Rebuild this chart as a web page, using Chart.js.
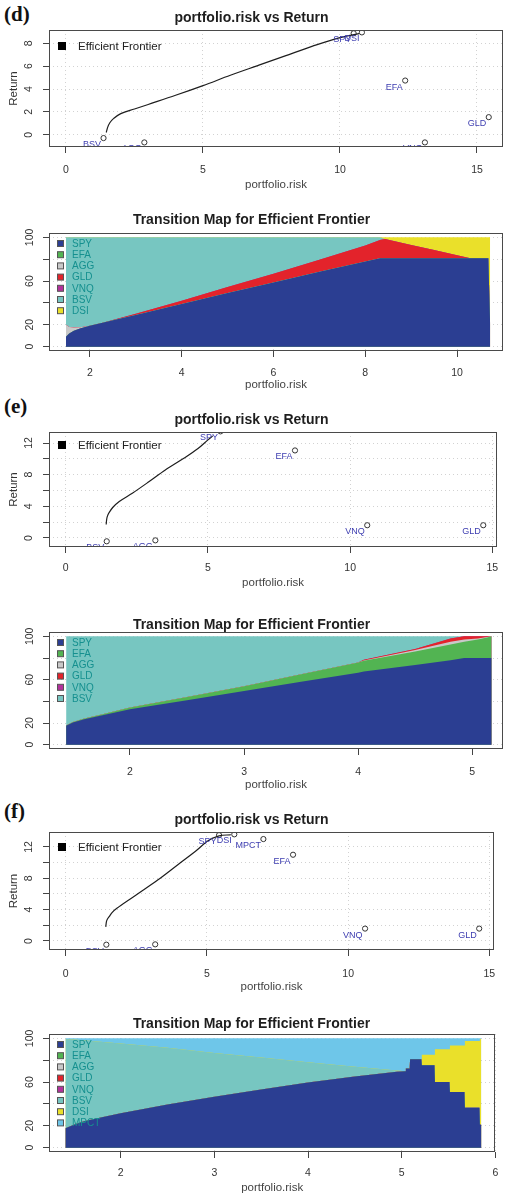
<!DOCTYPE html>
<html>
<head>
<meta charset="utf-8">
<script src="https://cdn.jsdelivr.net/npm/chart.js@4.4.1/dist/chart.umd.min.js"></script>
<style>
  body { margin: 0; background: #fff; width: 508px; height: 1197px; position: relative; overflow: hidden; }
  canvas { position: absolute; left: 0; }
  .tag { position: absolute; left: 4px; font: bold 21px/21px 'Liberation Serif', 'Times New Roman', serif; color: #111; }
</style>
</head>
<body>
<div class="tag" style="top:4px">(d)</div>
<div class="tag" style="top:396px">(e)</div>
<div class="tag" style="top:801px">(f)</div>
<script>
// ── DATA ─────────────────────────────────────────────────────────
// panel (d)
const assetsD = ['SPY', 'EFA', 'AGG', 'GLD', 'VNQ', 'BSV', 'DSI'];
const assetRiskD = [10.5, 12.38, 2.86, 15.43, 13.1, 1.37, 10.8];
const assetReturnD = [8.87, 4.74, -0.67, 1.54, -0.67, -0.29, 8.95];
const frontierRiskD = [1.47, 1.52, 1.6, 1.75, 2.0, 2.5, 3.0, 4.0, 5.0, 6.0, 7.0, 8.0, 9.0, 10.0, 10.7];
const frontierReturnD = [0.2, 0.65, 1.05, 1.45, 1.85, 2.25, 2.65, 3.45, 4.3, 5.2, 6.05, 6.9, 7.75, 8.5, 8.85];
const mapRiskD = [1.48, 1.55, 1.65, 1.8, 2.0, 2.3, 2.6, 3.0, 3.5, 4.0, 5.0, 6.0, 7.0, 8.0, 8.32, 8.43, 9.0, 9.5, 10.0, 10.29, 10.68, 10.72];
const mapD_SPY = [9, 12, 14.5, 16.8, 19, 22, 25, 29, 34, 39, 49, 58.8, 68.5, 78, 81, 81, 81, 81, 81, 81, 81, 20];
const mapD_EFA = [0, 0, 0, 0, 0, 0, 0, 0, 0, 0, 0, 0, 0, 0, 0, 0, 0, 0, 0, 0, 0, 0];
const mapD_AGG = [11, 6, 3, 1, 0, 0, 0, 0, 0, 0, 0, 0, 0, 0, 0, 0, 0, 0, 0, 0, 0, 0];
const mapD_GLD = [0, 0, 0, 0, 0, 0, 0.5, 1, 2, 3, 5.5, 8, 11, 14.5, 16.5, 17.5, 12.1, 7.4, 2.7, 0, 0, 0];
const mapD_VNQ = [0, 0, 0, 0, 0, 0, 0, 0, 0, 0, 0, 0, 0, 0, 0, 0, 0, 0, 0, 0, 0, 0];
const mapD_BSV = [80, 82, 82.5, 82.2, 81, 78, 74.5, 70, 64, 58, 45.5, 33.2, 20.5, 7.5, 2.5, 0, 0, 0, 0, 0, 0, 0];
const mapD_DSI = [0, 0, 0, 0, 0, 0, 0, 0, 0, 0, 0, 0, 0, 0, 0, 1.5, 6.9, 11.6, 16.3, 19, 19, 80];

// panel (e)
const assetsE = ['SPY', 'EFA', 'AGG', 'GLD', 'VNQ', 'BSV'];
const assetRiskE = [5.44, 8.06, 3.15, 14.68, 10.6, 1.44];
const assetReturnE = [13.47, 11.06, -0.3, 1.61, 1.61, -0.42];
const frontierRiskE = [1.42, 1.44, 1.48, 1.54, 1.65, 1.88, 2.34, 2.92, 3.5, 4.08, 4.65, 5.0, 5.17];
const frontierReturnE = [1.7, 2.4, 2.9, 3.3, 3.85, 4.6, 5.65, 7.1, 8.6, 9.9, 11.3, 12.4, 12.9];
const mapRiskE = [1.44, 1.5, 1.6, 1.75, 2.0, 2.5, 3.0, 3.5, 4.0, 4.05, 4.5, 4.81, 4.93, 5.05, 5.13, 5.17];
const mapE_SPY = [17.4, 20.5, 23.5, 27, 32.7, 41, 49.5, 58, 66.4, 67.5, 73.5, 78, 80, 80, 80, 80];
const mapE_EFA = [0.3, 0.4, 0.6, 0.9, 1.5, 3, 4.5, 7, 9.5, 10, 12.5, 14.5, 15, 17, 19, 20];
const mapE_AGG = [0, 0, 0, 0, 0, 0, 0, 0, 0, 0.3, 1.5, 2.5, 2, 1, 0.5, 0];
const mapE_GLD = [0, 0, 0, 0, 0, 0, 0, 0, 0, 0.5, 0.8, 3, 3, 2, 0.5, 0];
const mapE_VNQ = [0, 0, 0, 0, 0, 0, 0, 0, 0, 0, 0, 0, 0, 0, 0, 0];
const mapE_BSV = [82.3, 79.1, 75.9, 72.1, 65.8, 56, 46, 35, 24.1, 21.7, 11.7, 2, 0, 0, 0, 0];

// panel (f)
const assetsF = ['SPY', 'EFA', 'AGG', 'GLD', 'VNQ', 'BSV', 'DSI', 'MPCT'];
const assetRiskF = [5.43, 8.05, 3.17, 14.64, 10.6, 1.44, 5.97, 7.0];
const assetReturnF = [13.5, 11.0, -0.43, 1.58, 1.58, -0.47, 13.6, 13.0];
const frontierRiskF = [1.42, 1.44, 1.48, 1.54, 1.65, 1.88, 2.57, 3.27, 3.96, 4.65, 5.0, 5.43, 5.85];
const frontierReturnF = [1.8, 2.4, 2.8, 3.1, 3.65, 4.35, 6.05, 7.8, 9.7, 11.6, 12.7, 13.4, 13.55];
const mapRiskF = [1.41, 1.5, 1.6, 1.75, 2.0, 2.5, 3.0, 3.5, 4.0, 4.5, 4.95, 5.04, 5.045, 5.085, 5.09, 5.21, 5.215, 5.35, 5.355, 5.51, 5.515, 5.67, 5.675, 5.83, 5.835, 5.85];
const mapF_SPY = [17.7, 21, 24, 27, 31.4, 39.5, 46.6, 53.2, 59.5, 65, 69.5, 70, 72.5, 72.5, 81, 81, 75.5, 75.5, 60, 60, 51, 51, 36.5, 36.5, 21, 21];
const mapF_EFA = [0, 0, 0, 0, 0, 0, 0, 0, 0, 0, 0, 0, 0, 0, 0, 0, 0, 0, 0, 0, 0, 0, 0, 0, 0, 0];
const mapF_AGG = [0, 0, 0, 0, 0, 0, 0, 0, 0, 0, 0, 0, 0, 0, 0, 0, 0, 0, 0, 0, 0, 0, 0, 0, 0, 0];
const mapF_GLD = [0, 0, 0, 0, 0, 0, 0, 0, 0, 0, 0, 0, 0, 0, 0, 0, 0, 0, 0, 0, 0, 0, 0, 0, 0, 0];
const mapF_VNQ = [0, 0, 0, 0, 0, 0, 0, 0, 0, 0, 0, 0, 0, 0, 0, 0, 0, 0, 0, 0, 0, 0, 0, 0, 0, 0];
const mapF_BSV = [81.8, 78, 74.3, 70.2, 64, 52, 39.9, 29.3, 18.7, 9, 1, 0, 0, 0, 0, 0, 0, 0, 0, 0, 0, 0, 0, 0, 0, 0];
const mapF_DSI = [0, 0, 0, 0, 0, 0, 0, 0, 0, 0, 0, 0, 0, 0, 0, 0, 9.5, 9.5, 30, 30, 42.5, 42.5, 61, 61, 78.5, 78.5];
const mapF_MPCT = [0.5, 1, 1.7, 2.8, 4.6, 8.5, 13.5, 17.5, 21.8, 26, 29.5, 30, 27.5, 27.5, 19, 19, 15, 15, 10, 10, 6.5, 6.5, 2.5, 2.5, 0.5, 0.5];

// tick labels that R kept on the y axes
const yLabelsD = [0, 2, 4, 6, 8];
const yLabelsEF = [0, 4, 8, 12];
const yLabelsMap = [0, 20, 60, 100];

// ── STYLE ────────────────────────────────────────────────────────
const FONT = "'Liberation Sans', Arial, sans-serif";
const assetColors = {
    SPY: '#2b3e92', EFA: '#52b452', AGG: '#c9c9c9', GLD: '#e3232b',
    VNQ: '#b3319c', BSV: '#77c6c1', DSI: '#eae02a', MPCT: '#6ec6e9'
};
Chart.defaults.font.family = FONT;

// ── PLUGINS ──────────────────────────────────────────────────────
const rBox = {
    id: 'rBox',
    afterDraw(chart) {
        const a = chart.chartArea, ctx = chart.ctx;
        ctx.save();
        ctx.strokeStyle = '#4a4a4a';
        ctx.lineWidth = 1;
        ctx.strokeRect(Math.round(a.left) + 0.5, Math.round(a.top) + 0.5,
            Math.round(a.right - a.left) - 1, Math.round(a.bottom - a.top) - 1);
        ctx.restore();
    }
};

// R draws y labels parallel to the axis
const yTickLabels = {
    id: 'yTickLabels',
    afterDraw(chart, args, opts) {
        const y = chart.scales.y, ctx = chart.ctx;
        ctx.save();
        ctx.fillStyle = '#333';
        ctx.font = '10.5px ' + FONT;
        ctx.textAlign = 'center';
        ctx.textBaseline = 'middle';
        opts.values.forEach(v => {
            ctx.save();
            ctx.translate(opts.x, y.getPixelForValue(v));
            ctx.rotate(-Math.PI / 2);
            ctx.fillText(String(v), 0, 0);
            ctx.restore();
        });
        ctx.restore();
    }
};

const assetLabels = {
    id: 'assetLabels',
    afterDatasetsDraw(chart) {
        const a = chart.chartArea, ctx = chart.ctx;
        ctx.save();
        ctx.beginPath();
        ctx.rect(a.left, a.top, a.right - a.left, a.bottom - a.top);
        ctx.clip();
        ctx.fillStyle = '#3d3db0';
        ctx.font = '9px ' + FONT;
        ctx.textAlign = 'right';
        ctx.textBaseline = 'middle';
        chart.data.datasets.forEach((ds, di) => {
            if (!ds.names) return;
            chart.getDatasetMeta(di).data.forEach((pt, i) => {
                ctx.fillText(ds.names[i], pt.x - 2.5, pt.y + 6.5);
            });
        });
        ctx.restore();
    }
};

const frontierLegend = {
    id: 'frontierLegend',
    afterDraw(chart, args, opts) {
        const a = chart.chartArea, ctx = chart.ctx;
        const cy = a.top + opts.dy;
        ctx.save();
        ctx.fillStyle = '#000';
        ctx.fillRect(a.left + 9, cy - 4, 8, 8);
        ctx.fillStyle = '#222';
        ctx.font = '11.5px ' + FONT;
        ctx.textAlign = 'left';
        ctx.textBaseline = 'middle';
        ctx.fillText(chart.data.datasets[0].label, a.left + 29, cy + 0.5);
        ctx.restore();
    }
};

const mapLegend = {
    id: 'mapLegend',
    afterDraw(chart) {
        const a = chart.chartArea, ctx = chart.ctx;
        ctx.save();
        ctx.font = '10px ' + FONT;
        ctx.textAlign = 'left';
        ctx.textBaseline = 'middle';
        chart.data.datasets.forEach((ds, i) => {
            const cy = a.top + 10.5 + i * 11.2;
            ctx.fillStyle = ds.backgroundColor;
            ctx.fillRect(a.left + 8.5, cy - 3, 6, 6);
            ctx.strokeStyle = '#555';
            ctx.lineWidth = 1;
            ctx.strokeRect(a.left + 8.5, cy - 3, 6, 6);
            ctx.fillStyle = '#15908f';
            ctx.fillText(ds.label, a.left + 23, cy + 0.5);
        });
        ctx.restore();
    }
};

// ── LAYOUT HELPERS ───────────────────────────────────────────────
// g: page y of title centre, plot box top/bottom, x tick labels and x title
function frame(g, titleText, x, y, yTitle) {
    const top = g.title - 7, bottom = g.xTitle + 6;
    const canvas = document.createElement('canvas');
    canvas.width = 508;
    canvas.height = bottom - top;
    canvas.style.top = top + 'px';
    document.body.appendChild(canvas);

    const options = {
        responsive: false,
        animation: false,
        events: [],
        layout: { padding: { left: 0, right: 5, top: 0, bottom: 0 } },
        plugins: {
            legend: { display: false },
            tooltip: { enabled: false },
            title: {
                display: true, text: titleText, color: '#1e1e1e',
                font: { size: 14, weight: 'bold', lineHeight: 1 },
                padding: { top: 0, bottom: g.boxTop - g.title - 7 }
            }
        },
        scales: {
            x: {
                type: 'linear', min: x.min, max: x.max,
                afterFit: s => { s.height = bottom - g.boxBottom; },
                ticks: {
                    stepSize: x.step, includeBounds: false, autoSkip: false, maxRotation: 0,
                    padding: g.xLab - g.boxBottom - 6 - 5.25,
                    font: { size: 10.5, lineHeight: 1 }, color: '#333'
                },
                grid: { color: '#d2d2d2', tickColor: '#444', tickLength: 6 },
                border: { display: false, dash: [1, 3] },
                title: {
                    display: true, text: 'portfolio.risk', color: '#444',
                    font: { size: 11.5, lineHeight: 1 }, padding: { top: 0, bottom: 0.25 }
                }
            },
            y: {
                type: 'linear', min: y.min, max: y.max, stacked: !!y.stacked,
                afterFit: s => { s.width = 49; },
                ticks: { stepSize: y.step, includeBounds: false, display: false },
                grid: { color: '#d2d2d2', tickColor: '#444', tickLength: 6 },
                border: { display: false, dash: [1, 3] },
                title: {
                    display: !!yTitle, text: yTitle || '', color: '#333',
                    font: { size: 11.5, lineHeight: 1 }, padding: { top: 8.25, bottom: 0 }
                }
            }
        }
    };
    return { canvas, options };
}

function scatterChart(g, names, risk, ret, fRisk, fRet, x, y, yLabels, legendDy) {
    const f = frame(g, 'portfolio.risk vs Return', x, y, 'Return');
    f.options.plugins.yTickLabels = { values: yLabels, x: 29 };
    f.options.plugins.frontierLegend = { dy: legendDy };
    return new Chart(f.canvas, {
        type: 'scatter',
        data: {
            datasets: [{
                label: 'Efficient Frontier',
                data: fRisk.map((v, i) => ({ x: v, y: fRet[i] })),
                showLine: true, borderColor: '#1e1e1e', borderWidth: 1.2,
                pointRadius: 0, cubicInterpolationMode: 'monotone'
            }, {
                label: 'assets', names,
                data: risk.map((v, i) => ({ x: v, y: ret[i] })),
                pointRadius: 2.6, pointBorderWidth: 1,
                pointBorderColor: '#333', pointBackgroundColor: 'rgba(0,0,0,0)'
            }]
        },
        options: f.options,
        plugins: [rBox, yTickLabels, assetLabels, frontierLegend]
    });
}

function mapChart(g, risk, series, x) {
    const f = frame(g, 'Transition Map for Efficient Frontier', x,
        { min: -4, max: 104, step: 20, stacked: true }, null);
    f.options.plugins.yTickLabels = { values: yLabelsMap, x: 30 };
    return new Chart(f.canvas, {
        type: 'line',
        data: {
            datasets: series.map(([name, w]) => ({
                label: name,
                data: risk.map((v, i) => ({ x: v, y: w[i] })),
                backgroundColor: assetColors[name],
                borderColor: 'rgba(0,0,0,0)', borderWidth: 0,
                pointRadius: 0, fill: 'origin', tension: 0
            }))
        },
        options: f.options,
        plugins: [rBox, yTickLabels, mapLegend]
    });
}

// ── CHARTS ───────────────────────────────────────────────────────
scatterChart({ title: 18, boxTop: 30, boxBottom: 147, xLab: 170, xTitle: 185 },
    assetsD, assetRiskD, assetReturnD, frontierRiskD, frontierReturnD,
    { min: -0.62, max: 15.95, step: 5 }, { min: -1.07, max: 9.16, step: 2 }, yLabelsD, 16);

mapChart({ title: 220, boxTop: 233, boxBottom: 351, xLab: 373, xTitle: 385 }, mapRiskD, [
    ['SPY', mapD_SPY], ['EFA', mapD_EFA], ['AGG', mapD_AGG], ['GLD', mapD_GLD],
    ['VNQ', mapD_VNQ], ['BSV', mapD_BSV], ['DSI', mapD_DSI]
], { min: 1.11, max: 11.0, step: 2 });

scatterChart({ title: 420, boxTop: 432, boxBottom: 547, xLab: 568, xTitle: 583 },
    assetsE, assetRiskE, assetReturnE, frontierRiskE, frontierReturnE,
    { min: -0.59, max: 15.17, step: 5 }, { min: -1.14, max: 13.39, step: 2 }, yLabelsEF, 13);

mapChart({ title: 625, boxTop: 632, boxBottom: 749, xLab: 772, xTitle: 785 }, mapRiskE, [
    ['SPY', mapE_SPY], ['EFA', mapE_EFA], ['AGG', mapE_AGG], ['GLD', mapE_GLD],
    ['VNQ', mapE_VNQ], ['BSV', mapE_BSV]
], { min: 1.29, max: 5.27, step: 1 });

scatterChart({ title: 820, boxTop: 832, boxBottom: 950, xLab: 974, xTitle: 987 },
    assetsF, assetRiskF, assetReturnF, frontierRiskF, frontierReturnF,
    { min: -0.59, max: 15.17, step: 5 }, { min: -1.15, max: 13.9, step: 2 }, yLabelsEF, 15);

mapChart({ title: 1024, boxTop: 1034, boxBottom: 1152, xLab: 1173, xTitle: 1188 }, mapRiskF, [
    ['SPY', mapF_SPY], ['EFA', mapF_EFA], ['AGG', mapF_AGG], ['GLD', mapF_GLD],
    ['VNQ', mapF_VNQ], ['BSV', mapF_BSV], ['DSI', mapF_DSI], ['MPCT', mapF_MPCT]
], { min: 1.234, max: 6.0, step: 1 });
</script>
</body>
</html>
